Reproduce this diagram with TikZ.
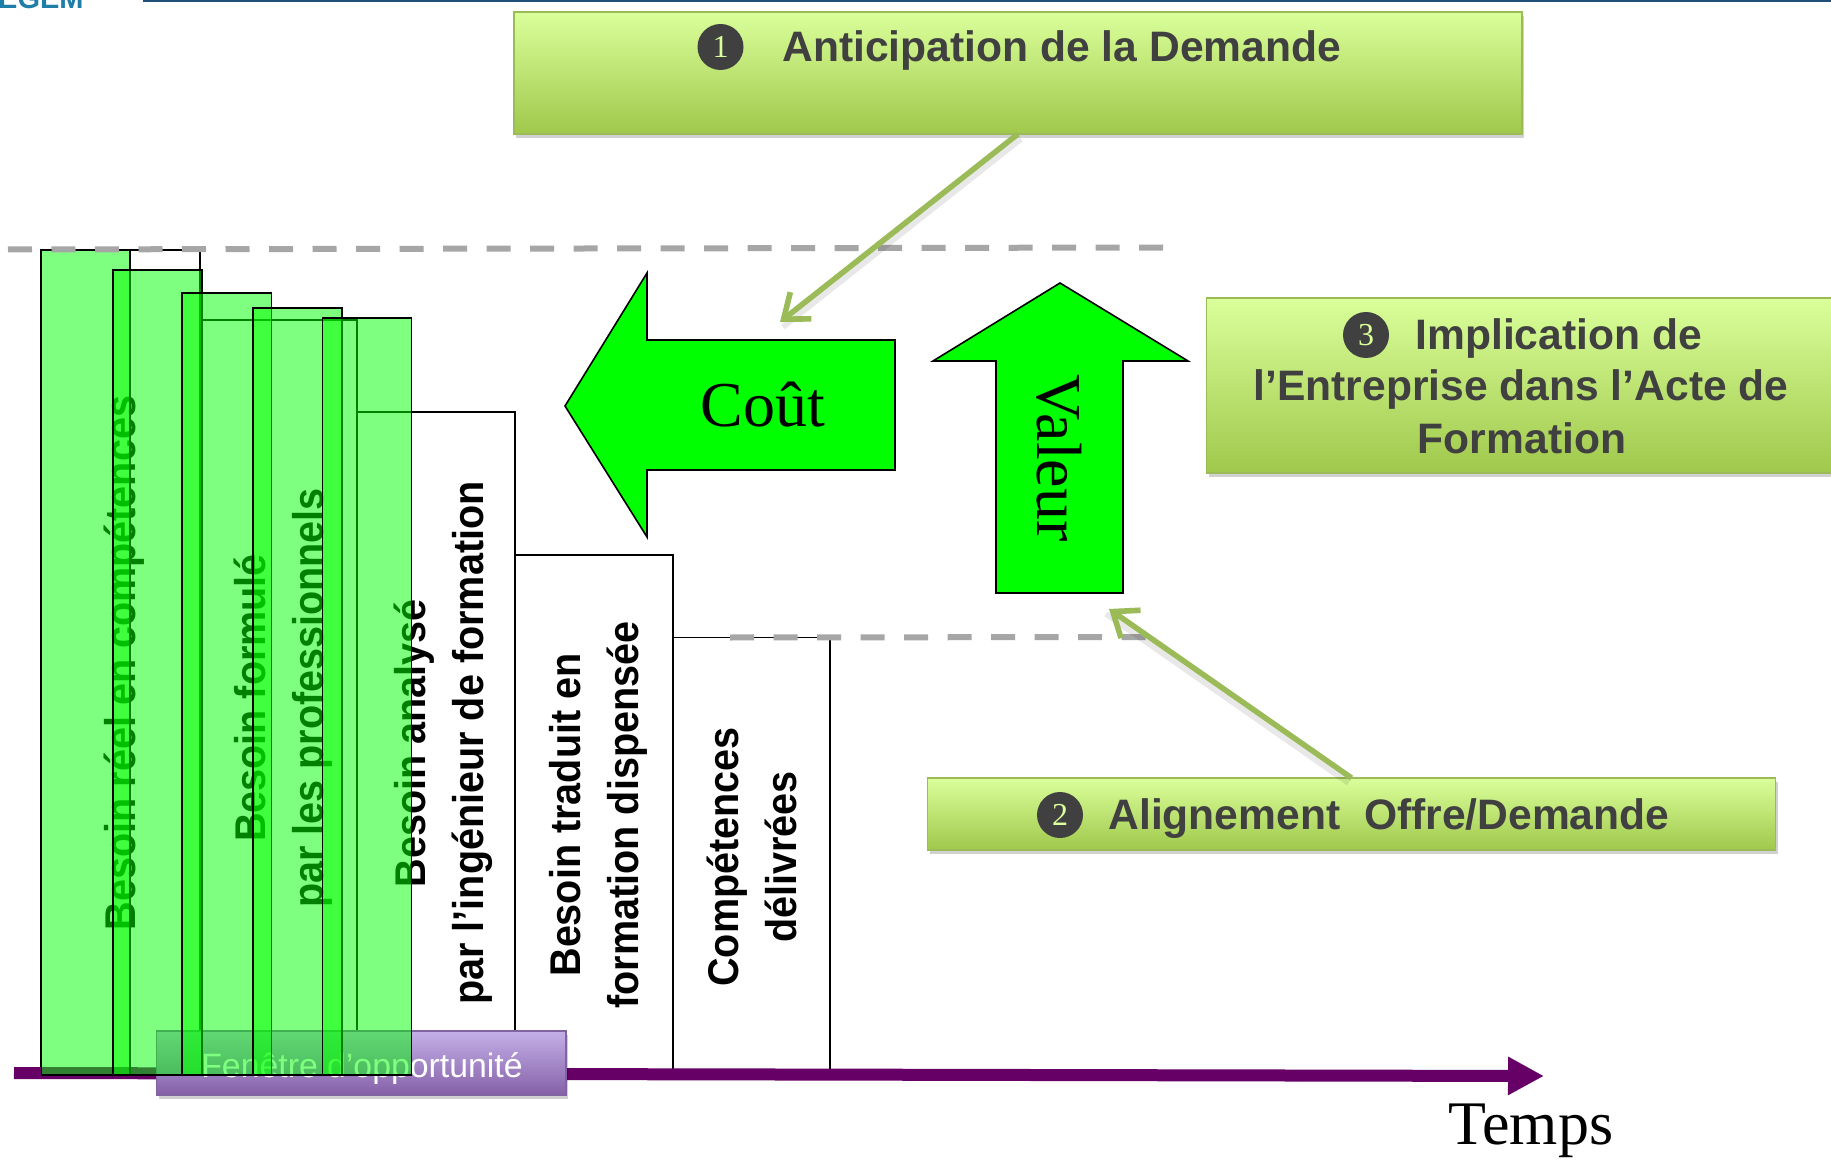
\documentclass[tikz,border=0pt]{standalone}
\usepackage{fontspec}
\usetikzlibrary{arrows.meta,shadows}
\setmainfont{Liberation Serif}
\setsansfont{Liberation Sans}
\newfontfamily\condsans[FakeStretch=0.92]{Liberation Sans}
\definecolor{boxtop}{HTML}{DAFF9B}
\definecolor{boxbot}{HTML}{A0C84B}
\definecolor{boxline}{HTML}{9BBB59}
\definecolor{darktxt}{HTML}{404040}
\definecolor{purpletop}{HTML}{C4B0E8}
\definecolor{purplebot}{HTML}{8560A8}
\definecolor{purpleline}{HTML}{8064A2}
\definecolor{axiscol}{HTML}{660066}
\definecolor{dashcol}{HTML}{A6A6A6}
\definecolor{logoblue}{HTML}{1F7EA8}
\definecolor{topline}{HTML}{1F4E79}
\tikzset{
  softshadow/.style={general shadow={shadow xshift=1pt,shadow yshift=-2pt,fill=black,opacity=.18}},
  greenbox/.style={draw=boxline,line width=.8pt,top color=boxtop,bottom color=boxbot,inner sep=0pt,outer sep=0pt,softshadow},
  purplebox/.style={draw=purpleline,line width=.8pt,top color=purpletop,bottom color=purplebot,inner sep=0pt,outer sep=0pt,softshadow},
  whitebar/.style={draw=black,line width=.7pt,fill=white},
  glassbar/.style={draw=black,line width=.9pt,fill=green,fill opacity=.5},
  vlabel/.style={rotate=90,align=center,inner sep=0pt,text=black,font=\condsans\bfseries\fontsize{21.5}{29}\selectfont},
  boxlabel/.style={inner sep=0pt,text=darktxt,font=\sffamily\bfseries\fontsize{21.3}{25}\selectfont},
  numdisc/.style={circle,fill=darktxt,text=boxtop,minimum size=23pt,inner sep=0pt,font=\fontsize{16}{16}\selectfont},
  bigarrow/.style={draw=black,line width=.8pt,fill=green},
  dashrule/.style={draw=dashcol,line width=3pt,dash pattern=on 12pt off 9.75pt},
  callout/.style={draw=boxline,line width=2.8pt,-{Straight Barb[length=11pt,width=17pt]}},
  calloutshadow/.style={draw=black,draw opacity=.09,line width=2.8pt},
  serif/.style={inner sep=0pt,text=black}
}
\begin{document}
\begin{tikzpicture}[x=.5pt,y=-.5pt]
\clip (0,0) rectangle (1831,1160);
\fill[white] (0,0) rectangle (1831,1160);
% header remnants
\node[anchor=base east,inner sep=0pt,text=logoblue,font=\sffamily\bfseries\fontsize{14.5}{14.5}\selectfont] (logo) at (84,9) {EGEM};
\fill[topline] (143,0) rectangle (1831,2);
% white staircase
\draw[whitebar] (41,250) rectangle (200,1072);
\draw[whitebar] (200,320) rectangle (357,1072);
\draw[whitebar] (357,412) rectangle (515,1072);
\draw[whitebar] (515,555) rectangle (673,1072);
\draw[whitebar] (673,637.5) rectangle (830,1072);
% bar labels
\node[vlabel] (l1) at (124,663) {Besoin réel en compétences};
\node[vlabel] (l2) at (283.5,698) {Besoin formulé\\par les professionnels};
\node[vlabel] (l3) at (443,743) {Besoin analysé\\par l’ingénieur de formation};
\node[vlabel] (l4) at (598.5,815) {Besoin traduit en\\formation dispensée};
\node[vlabel] (l5) at (752,857) {Compétences\\délivrées};
% time axis
\coordinate (axisA) at (14,1073);
\coordinate (axisB) at (1544,1076);
\draw[axiscol,line width=6pt,-{Triangle[length=18pt,width=18pt]}] (axisA) -- (axisB);
\node[serif,font=\fontsize{31}{31}\selectfont] (temps) at (1531,1131) {Temps};
% window of opportunity
\node[purplebox,minimum width=204.75pt,minimum height=32pt] (window) at (361.25,1063) {};
\node[inner sep=0pt,text=white,font=\sffamily\fontsize{16.9}{17}\selectfont] (windowtxt) at (362,1069) {Fenêtre d’opportunité};
% translucent bars
\draw[glassbar] (41.5,250) rectangle (130,1075);
\draw[glassbar] (113,270) rectangle (202,1075);
\draw[glassbar] (182,293) rectangle (271.5,1075);
\draw[glassbar] (253,308) rectangle (342,1075);
\draw[glassbar] (322.5,318) rectangle (411.5,1075);
% cost and value arrows
\draw[bigarrow] (565,406) -- (647,273) -- (647,340) -- (895,340) -- (895,470) -- (647,470) -- (647,537) -- cycle;
\node[serif,font=\fontsize{32}{32}\selectfont] (cout) at (763,405) {Coût};
\draw[bigarrow] (1060,283) -- (1188,361) -- (1123,361) -- (1123,593) -- (996,593) -- (996,361) -- (933,361) -- cycle;
\node[serif,rotate=-90,font=\fontsize{32}{32}\selectfont] (valeur) at (1059,458) {Valeur};
% dashed guides
\coordinate (d1a) at (8,249.5);
\coordinate (d1b) at (1164,247.5);
\coordinate (d2a) at (730,637.5);
\coordinate (d2b) at (1164,637);
\path[dashrule] (d1a) -- (d1b);
\path[dashrule] (d2a) -- (d2b);
% labelled boxes
\node[greenbox,minimum width=503.75pt,minimum height=61pt] (b1) at (1018,73) {};
\node[greenbox,minimum width=314.5pt,minimum height=87.5pt] (b3) at (1521,385.5) {};
\node[greenbox,minimum width=424pt,minimum height=36pt] (b2) at (1351.5,814) {};
\node[numdisc] (n1) at (720.5,47) {1};
\node[boxlabel,anchor=west] (t1) at (782,50.5) {Anticipation de la Demande};
\node[numdisc] (n3) at (1366,335) {3};
\node[boxlabel,anchor=west] (t3a) at (1415,338.5) {Implication de};
\node[boxlabel] (t3b) at (1521,389.5) {l’Entreprise dans l’Acte de};
\node[boxlabel] (t3c) at (1522,438) {Formation};
\node[numdisc] (n2) at (1060,815) {2};
\node[boxlabel,anchor=west] (t2) at (1108,818.5) {Alignement\ \ Offre/Demande};
% callouts
\coordinate (tipA) at (780,322);
\coordinate (tipB) at (1109,609);
\path[calloutshadow] ([shift={(3,5)}]b1.south) -- ([shift={(3,5)}]tipA);
\path[calloutshadow] ([shift={(-3,5)}]b2.north) -- ([shift={(-3,5)}]tipB);
\draw[callout] (b1.south) -- (tipA);
\draw[callout] (b2.north) -- (tipB);
\end{tikzpicture}
\end{document}
